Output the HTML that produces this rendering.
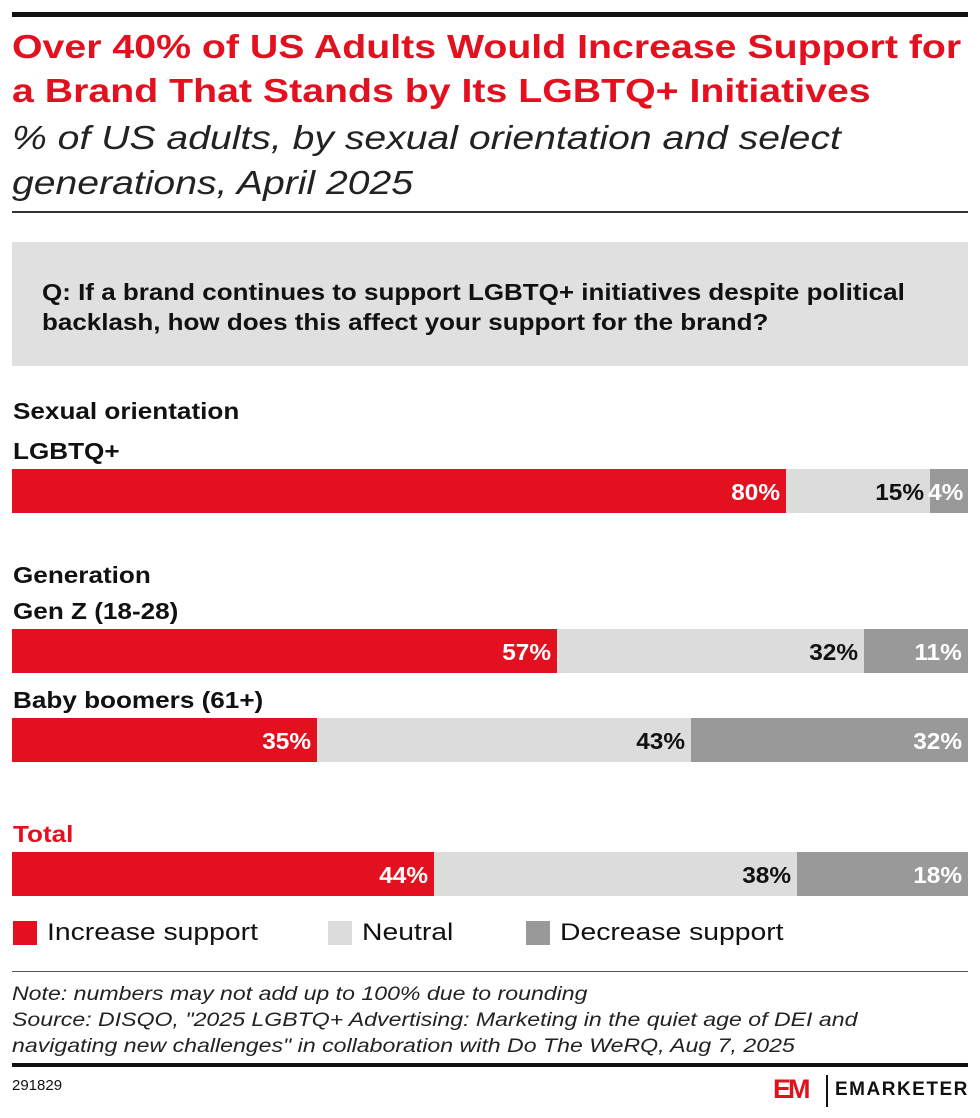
<!DOCTYPE html>
<html><head><style>
body{margin:0;width:980px;height:1118px;background:#fff;font-family:"Liberation Sans",sans-serif;position:relative;overflow:hidden}
.a{position:absolute;white-space:nowrap;transform-origin:left top}
.t{color:#e3111f;font-weight:bold;font-size:33px;left:12px;transform:scaleX(1.19)}
.s{font-style:italic;font-size:33px;color:#222;left:12px;transform:scaleX(1.186)}
.lab{font-weight:bold;font-size:23px;color:#111;left:13px;transform:scaleX(1.135)}
.bar{position:absolute;left:12px;width:956px;height:44px;display:flex}
.bar div{height:100%;position:relative}
.bar span{position:absolute;right:6px;top:10px;font-weight:bold;font-size:23px;transform:scaleX(1.06);transform-origin:right top}
.r{background:#e3111f;color:#fff}.n{background:#dcdcdc;color:#111}.d{background:#999;color:#fff}
.note{font-style:italic;font-size:19.5px;color:#222;left:12px;transform:scaleX(1.185)}
.lg{font-size:24px;color:#111;transform:scaleX(1.18)}
</style></head><body>
<div class="a" style="left:12px;top:12px;width:956px;height:5px;background:#111"></div>
<div class="a t" style="top:28px">Over 40% of US Adults Would Increase Support for</div>
<div class="a t" style="top:72px">a Brand That Stands by Its LGBTQ+ Initiatives</div>
<div class="a s" style="top:119px">% of US adults, by sexual orientation and select</div>
<div class="a s" style="top:164px">generations, April 2025</div>
<div class="a" style="left:12px;top:211px;width:956px;height:2px;background:#333"></div>
<div class="a" style="left:12px;top:242px;width:956px;height:124px;background:#e0e0e0"></div>
<div class="a" style="left:42px;top:277px;font-weight:bold;font-size:23px;color:#111;line-height:30px;transform:scaleX(1.13)">Q: If a brand continues to support LGBTQ+ initiatives despite political<br>backlash, how does this affect your support for the brand?</div>
<div class="a lab" style="top:398px">Sexual orientation</div>
<div class="a lab" style="top:438px">LGBTQ+</div>
<div class="bar" style="top:469px"><div class="r" style="width:774px"><span>80%</span></div><div class="n" style="width:144px"><span>15%</span></div><div class="d" style="width:38px"><span style="right:5px">4%</span></div></div>
<div class="a lab" style="top:562px">Generation</div>
<div class="a lab" style="top:598px">Gen Z (18-28)</div>
<div class="bar" style="top:629px"><div class="r" style="width:545px"><span>57%</span></div><div class="n" style="width:307px"><span>32%</span></div><div class="d" style="width:104px"><span>11%</span></div></div>
<div class="a lab" style="top:687px">Baby boomers (61+)</div>
<div class="bar" style="top:718px"><div class="r" style="width:305px"><span>35%</span></div><div class="n" style="width:374px"><span>43%</span></div><div class="d" style="width:277px"><span>32%</span></div></div>
<div class="a lab" style="top:821px;color:#e3111f">Total</div>
<div class="bar" style="top:852px"><div class="r" style="width:422px"><span>44%</span></div><div class="n" style="width:363px"><span>38%</span></div><div class="d" style="width:171px"><span>18%</span></div></div>
<div class="a" style="left:13px;top:921px;width:24px;height:24px;background:#e3111f"></div>
<div class="a lg" style="left:47px;top:919px">Increase support</div>
<div class="a" style="left:328px;top:921px;width:24px;height:24px;background:#dcdcdc"></div>
<div class="a lg" style="left:362px;top:919px">Neutral</div>
<div class="a" style="left:526px;top:921px;width:24px;height:24px;background:#999"></div>
<div class="a lg" style="left:560px;top:919px">Decrease support</div>
<div class="a" style="left:12px;top:971px;width:956px;height:1px;background:#555"></div>
<div class="a note" style="top:981px;line-height:26px">Note: numbers may not add up to 100% due to rounding<br>Source: DISQO, "2025 LGBTQ+ Advertising: Marketing in the quiet age of DEI and<br>navigating new challenges" in collaboration with Do The WeRQ, Aug 7, 2025</div>
<div class="a" style="left:12px;top:1063px;width:956px;height:4px;background:#111"></div>
<div class="a" style="left:12px;top:1077px;font-size:15px;color:#111">291829</div>
<div class="a" style="left:773px;top:1077px;width:46px;height:24px;color:#e3111f;font-weight:bold;font-size:27px;line-height:24px;letter-spacing:-3px">EM</div>
<div class="a" style="left:826px;top:1075px;width:2px;height:32px;background:#111"></div>
<div class="a" style="left:835px;top:1079px;font-weight:bold;font-size:19px;letter-spacing:1.5px;color:#111">EMARKETER</div>
</body></html>
